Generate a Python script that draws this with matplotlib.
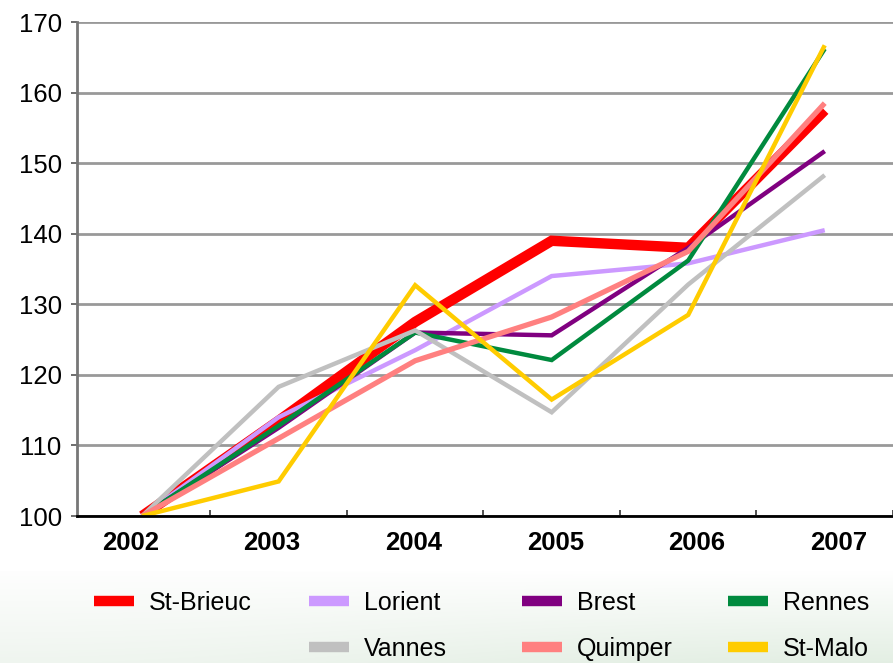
import matplotlib
matplotlib.use("Agg")
import matplotlib.pyplot as plt
import numpy as np
from matplotlib.lines import Line2D

years = ["2002", "2003", "2004", "2005", "2006", "2007"]
st_brieuc = [100, 113.5, 127.5, 139, 138, 157.5]
lorient = [100, 114, 123.5, 134, 135.8, 140.5]
brest = [100, 112.5, 126, 125.6, 138, 151.7]
rennes = [100, 112.8, 126, 122.1, 136.2, 166.2]
vannes = [100, 118.3, 126.3, 114.7, 132.8, 148.3]
quimper = [100, 111, 122, 128.2, 137.5, 158.5]
st_malo = [100, 104.9, 132.7, 116.5, 128.5, 166.7]

series = [
    ("St-Brieuc", st_brieuc, "#FF0000", 7.5),
    ("Lorient", lorient, "#CC99FF", 3.2),
    ("Brest", brest, "#800080", 3.2),
    ("Rennes", rennes, "#008A3E", 3.2),
    ("Vannes", vannes, "#C0C0C0", 3.2),
    ("Quimper", quimper, "#FF8080", 3.8),
    ("St-Malo", st_malo, "#FFCC00", 3.2),
]

W, H = 893, 663
fig = plt.figure(figsize=(W / 100, H / 100), dpi=100)

# soft background at the bottom (legend zone)
bg = fig.add_axes([0, 0, 1, 92 / H], zorder=-10)
grad = np.linspace(0, 1, 100).reshape(-1, 1)
top = np.array([1.0, 1.0, 1.0])
bot = np.array([0.89, 0.935, 0.89])
img = (1 - grad)[..., None] * bot + grad[..., None] * top
img = np.repeat(img, 2, axis=1)
img[:, 0, :] = img[:, 0, :] * 0.5 + 0.5 * np.array([0.99, 0.99, 0.99])
bg.imshow(img, aspect="auto", origin="lower", extent=[0, 1, 0, 1], interpolation="bicubic")
bg.axis("off")

left_px, top_px, bottom_px = 77, 22, 516
cat_w = 138.4
first_center = 143.0
ax = fig.add_axes([left_px / W, (H - bottom_px) / H, (W - left_px) / W, (bottom_px - top_px) / H])
x = np.arange(len(years))
for name, vals, col, lw in series:
    ax.plot(x, vals, color=col, lw=lw, solid_joinstyle="miter", solid_capstyle="butt", label=name)

ax.set_ylim(100, 170)
x0 = -(first_center - left_px) / cat_w
ax.set_xlim(x0, x0 + (W - left_px) / cat_w)
ax.set_yticks(range(100, 171, 10))
ax.set_yticklabels([str(v) for v in range(100, 171, 10)], fontsize=18.5, family="Liberation Sans")
# category labels (slightly wider spacing than categories, as in the original export)
label_pos = x * 1.038 - 0.087
ax.set_xticks(label_pos)
ax.set_xticklabels(years, fontsize=18.5, fontweight="bold", family="Liberation Sans")
ax.set_xticks(np.arange(len(years)) + 0.5, minor=True)
ax.tick_params(axis="x", which="major", length=0, pad=11)
ax.tick_params(axis="x", which="minor", length=4, direction="in", width=1.2, color="#333333")
ax.tick_params(axis="y", length=4, width=1.2, color="#555555", pad=7)
ax.yaxis.grid(True, color="#999999", lw=2)
ax.set_axisbelow(True)
for s in ["top", "right"]:
    ax.spines[s].set_visible(False)
ax.spines["left"].set_color("#777777")
ax.spines["left"].set_linewidth(2)
ax.spines["bottom"].set_color("#000000")
ax.spines["bottom"].set_linewidth(2)
ax.spines["bottom"].set_zorder(5)
ax.patch.set_alpha(0)

handles = {name: Line2D([], [], color=col, lw=7.5, solid_capstyle="butt") for name, vals, col, lw in series}
blank = Line2D([], [], color="none")
columns = [("St-Brieuc", None), ("Lorient", "Vannes"), ("Brest", "Quimper"), ("Rennes", "St-Malo")]
col_x = [94, 309, 522, 728]
for (a, b), cx in zip(columns, col_x):
    hs = [handles[a], handles[b] if b else blank]
    ls = [a, b if b else ""]
    fig.legend(hs, ls, ncol=1, loc="upper left", bbox_to_anchor=(cx / W, 1 - 591 / H),
               frameon=False, handlelength=1.6, handletextpad=0.6, labelspacing=0.88,
               borderpad=0, borderaxespad=0,
               prop={"family": "Liberation Sans", "size": 18})

fig.savefig("out.png", dpi=100)
